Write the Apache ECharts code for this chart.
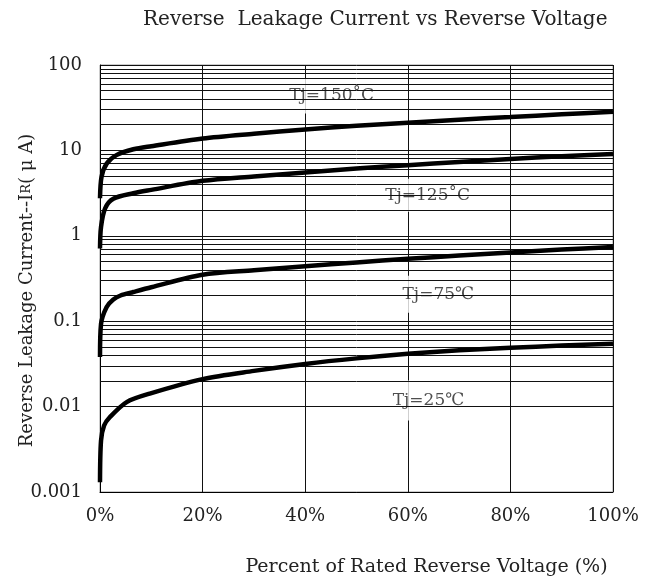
<!DOCTYPE html>
<html><head><meta charset="utf-8">
<script src="https://cdn.jsdelivr.net/npm/echarts@6/dist/echarts.min.js"></script>
<style>html,body{margin:0;padding:0;background:#fff}#c{width:654px;height:583px}</style>
</head><body><div id="c"></div>
<script>
// ---- data ----
const xTickLabels = ['0%', '20%', '40%', '60%', '80%', '100%'];
const yTickLabels = ['0.001', '0.01', '0.1', '1', '10', '100'];

const tj150 = [[0,2.75],[0.3,4.9],[1.3,7],[3.2,8.8],[6.5,10.3],[10,11.2],[20,13.8],[30,15.7],[40,17.6],[50,19.4],[60,21.1],[70,22.9],[80,24.6],[90,26.5],[100,28.4]];
const tj125 = [[0,0.71],[0.2,1.27],[1,2.1],[2.6,2.72],[6.5,3.15],[10,3.45],[20,4.4],[30,4.96],[40,5.52],[50,6.12],[60,6.72],[70,7.33],[80,7.95],[90,8.53],[100,9.05]];
const tj75  = [[0,0.038],[0.2,0.093],[1.3,0.147],[2.6,0.18],[4,0.2],[6.5,0.22],[10,0.25],[20,0.35],[30,0.395],[40,0.44],[50,0.488],[60,0.537],[70,0.588],[80,0.639],[90,0.689],[100,0.739]];
const tj25  = [[0,0.0013],[0.2,0.004],[0.8,0.006],[1.9,0.0075],[5.2,0.0113],[9.7,0.0142],[20,0.021],[30,0.0262],[40,0.0316],[50,0.0367],[60,0.0415],[70,0.0456],[80,0.0488],[90,0.0518],[100,0.0546]];

const curveNames = ['Tj=150˚C', 'Tj=125˚C', 'Tj=75℃', 'Tj=25℃'];
const labelX = [47.4, 66.0, 67.5, 65.1];
const labelY = [43.4, 2.99, 0.207, 0.0118];

const minorGrid = [
  0.002,0.003,0.004,0.005,0.006,0.007,0.008,0.009,
  0.02,0.03,0.04,0.05,0.06,0.07,0.08,0.09,
  0.2,0.3,0.4,0.5,0.6,0.7,0.8,0.9,
  2,3,4,5,6,7,8,9,
  20,30,40,50,60,70,80,90
];

// ---- chart ----
const FONT = 'DejaVu Serif';
const labelPads = [[10,26,5,3],[9,27,4,5],[8,21,9,5],[9,17,11,6]];
const chart = echarts.init(document.getElementById('c'), null, {renderer: 'canvas'});

const curveSeries = [tj150, tj125, tj75, tj25].map((d, i) => ({
  name: curveNames[i],
  type: 'line',
  data: d,
  showSymbol: false,
  symbol: 'none',
  smooth: 0.3,
  z: 5,
  lineStyle: {color: '#000', width: 4.5},
  animation: false
}));

chart.setOption({
  animation: false,
  backgroundColor: '#fff',
  title: {
    text: 'Reverse  Leakage Current vs Reverse Voltage',
    left: 138, top: 5,
    textStyle: {fontFamily: FONT, fontSize: 20, fontWeight: 'normal', color: '#222'}
  },
  grid: {left: 100, top: 65, width: 513, height: 427, show: true, borderColor: '#999', borderWidth: 1,
    containLabel: false, outerBoundsMode: 'none'},
  xAxis: {
    type: 'value', min: 0, max: 100, interval: 20,
    name: 'Percent of Rated Reverse Voltage (%)',
    nameLocation: 'middle', nameGap: 66, nameMoveOverlap: false,
    nameTextStyle: {fontFamily: FONT, fontSize: 19, color: '#222', padding: [0, 0, 0, 140]},
    axisLine: {lineStyle: {color: '#000', width: 1}},
    axisTick: {show: false},
    axisLabel: {fontFamily: FONT, fontSize: 18, color: '#222', margin: 15,
      formatter: (v) => xTickLabels[Math.round(v / 20)]},
    splitLine: {show: true, lineStyle: {color: '#111', width: 1}}
  },
  yAxis: {
    type: 'log', logBase: 10, min: 0.001, max: 100,
    name: 'Reverse Leakage Current--I{s|R}( μ A)',
    nameLocation: 'middle', nameGap: 64, nameRotate: 90, nameMoveOverlap: false,
    nameTextStyle: {fontFamily: FONT, fontSize: 18, color: '#222', padding: [0, 24, 0, 0],
      rich: {s: {fontFamily: FONT, fontSize: 13, color: '#222'}}},
    axisLine: {show: true, lineStyle: {color: '#000', width: 1}},
    axisTick: {show: false},
    axisLabel: {fontFamily: FONT, fontSize: 18, color: '#222', margin: 18,
      formatter: (v) => yTickLabels[Math.round(Math.log10(v)) + 3]},
    splitLine: {show: true, lineStyle: {color: '#111', width: 1}}
  },
  series: [
    {
      type: 'line', data: [], silent: true, z: 1,
      markLine: {
        silent: true, symbol: ['none', 'none'], animation: false,
        label: {show: false},
        lineStyle: {color: '#111', width: 1, type: 'solid'},
        emphasis: {disabled: true},
        data: minorGrid.map(v => ({yAxis: v}))
      }
    },
    {
      type: 'scatter', z: 3, silent: true, symbolSize: 0,
      data: labelX.map((x, i) => ({
        value: [x, labelY[i], curveNames[i]],
        label: {padding: labelPads[i]}
      })),
      label: {
        show: true, position: 'inside',
        formatter: p => p.data.value[2],
        fontFamily: FONT, fontSize: 17, color: '#222', lineHeight: 20,
        backgroundColor: '#fff'
      }
    },
    ...curveSeries
  ]
});
</script>
</body></html>
